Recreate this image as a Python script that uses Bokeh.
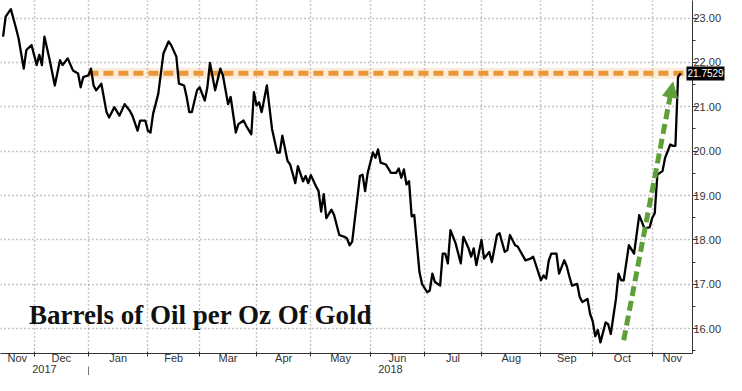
import pandas as pd
from bokeh.plotting import figure
from bokeh.models import (FixedTicker, LinearAxis, Label, Arrow, NormalHead,
                          Range1d, CustomJSTickFormatter)
from bokeh.embed import file_html
from bokeh.resources import INLINE

# ---------------- data ----------------
first_session_date = "2017-11-15"   # trading session 0
# trading-session number (business days from first_session_date)
session = [0, 1, 3, 5, 6, 8, 9, 11, 13, 14, 15, 16, 18, 20, 22, 23, 25, 27, 29, 30,
           31, 33, 34, 35, 36, 38, 40, 41, 43, 45, 47, 49, 50, 52, 53, 55, 56, 57, 58, 60,
           62, 64, 65, 67, 68, 70, 71, 72, 73, 75, 76, 78, 79, 80, 82, 84, 85, 87, 88, 90,
           91, 93, 94, 96, 97, 98, 99, 100, 102, 104, 106, 107, 108, 110, 111, 113, 114, 116, 117, 118,
           119, 121, 122, 123, 124, 125, 127, 128, 130, 132, 133, 134, 135, 138, 139, 140, 141, 143, 144, 145,
           146, 148, 150, 152, 153, 154, 155, 156, 157, 158, 159, 161, 162, 164, 165, 166, 167, 169, 170, 171,
           172, 173, 175, 177, 178, 180, 181, 182, 183, 185, 186, 188, 189, 191, 192, 194, 195, 196, 198, 199,
           202, 204, 205, 208, 209, 210, 211, 212, 214, 215, 217, 218, 219, 220, 222, 223, 224, 226, 227, 228,
           229, 230, 231, 233, 234, 235, 237, 238, 239, 240, 242, 244, 246, 248, 250, 251, 252, 253, 254, 255,
           256, 258, 259, 260, 261, 262]
ratio = [22.58, 23.03, 23.20, 22.77, 22.54, 21.86, 22.28, 22.39, 21.94, 22.17,
         21.94, 22.58, 22.06, 21.48, 22.05, 21.94, 22.09, 21.82, 21.75, 21.44,
         21.67, 21.71, 21.86, 21.48, 21.37, 21.52, 20.88, 20.76, 20.99, 20.80,
         21.06, 20.91, 20.80, 20.46, 20.69, 20.69, 20.46, 20.42, 20.84, 21.29,
         22.20, 22.47, 22.39, 22.13, 21.52, 21.48, 21.22, 20.88, 20.88, 21.37,
         21.44, 21.14, 21.44, 21.99, 21.37, 21.86, 21.71, 21.06, 21.22, 20.42,
         20.61, 20.69, 20.57, 20.38, 21.33, 21.03, 21.10, 20.88, 21.48, 20.50,
         19.97, 19.97, 20.35, 19.78, 19.70, 19.28, 19.66, 19.32, 19.44, 19.28,
         19.46, 19.21, 19.10, 18.64, 19.03, 18.49, 18.68, 18.56, 18.11, 18.07,
         18.03, 17.88, 17.96, 19.44, 19.47, 19.10, 19.51, 19.97, 19.85, 20.04,
         19.74, 19.70, 19.51, 19.51, 19.61, 19.40, 19.59, 19.25, 19.32, 18.53,
         18.56, 17.28, 17.01, 16.82, 16.86, 17.24, 17.05, 16.97, 17.69, 17.69,
         17.47, 18.22, 17.92, 17.47, 18.07, 17.81, 17.62, 17.81, 17.43, 18.00,
         17.58, 17.73, 17.50, 18.11, 18.15, 17.73, 17.77, 18.11, 17.88, 17.85,
         17.54, 17.58, 17.62, 17.09, 17.20, 17.13, 17.53, 17.69, 17.69, 17.24,
         17.54, 17.40, 17.17, 16.97, 17.01, 16.71, 16.60, 16.67, 16.33, 16.17,
         15.83, 15.97, 15.69, 16.14, 16.10, 15.88, 16.67, 17.24, 17.09, 17.09,
         17.88, 17.69, 18.56, 18.26, 18.28, 18.49, 18.60, 19.47, 19.51, 19.55,
         19.85, 20.15, 20.12, 20.12, 21.67, 21.7529]
y_ticks = [16, 17, 18, 19, 20, 21, 22, 23]
y_minor_ticks = [15.5, 16.5, 17.5, 18.5, 19.5, 20.5, 21.5, 22.5]
title_text = "Barrels of Oil per Oz Of Gold"

# ---------------- derived axis positions ----------------
X_START, X_END = -1.0, 266.6
cal = pd.bdate_range(first_session_date, periods=300)
month_starts = [i for i in range(1, len(cal))
                if cal[i].month != cal[i - 1].month and i < X_END]
bounds = [X_START] + month_starts + [X_END]
month_centers = [(a + b) / 2 for a, b in zip(bounds[:-1], bounds[1:])]
month_names = [cal[max(0, int(a) + 1)].strftime("%b") for a in bounds[:-1]]
year_starts = [i for i in month_starts if cal[i].month == 1]
ybounds = [X_START] + year_starts + [X_END]
year_centers = [(a + b) / 2 for a, b in zip(ybounds[:-1], ybounds[1:])]
year_names = [str(cal[max(0, int(a) + 1)].year) for a in ybounds[:-1]]

AXIS_FONT = "Liberation Sans"
TXT = "#333333"
ORANGE = "#ec9636"
GREEN = "#5e9f38"
TAG_W = 38

p = figure(width=726, height=375, output_backend="svg", toolbar_location=None,
           x_range=Range1d(X_START, X_END), y_range=Range1d(15.44, 23.395),
           y_axis_location="right", min_border_left=0, min_border_right=0,
           min_border_top=0, min_border_bottom=0)
p.outline_line_color = None
p.background_fill_color = "white"

# grids
p.xgrid.ticker = FixedTicker(ticks=month_starts)
p.ygrid.ticker = FixedTicker(ticks=y_ticks)
for g in (p.xgrid, p.ygrid):
    g.grid_line_color = "#8a8a8a"
    g.grid_line_dash = "1 3"
    g.grid_line_width = 1.4

# right y axis
ya = p.yaxis[0]
ya.ticker = FixedTicker(ticks=y_ticks, minor_ticks=y_minor_ticks)
ya.formatter = CustomJSTickFormatter(code="return tick.toFixed(2);")
ya.axis_line_color = "#333333"
ya.major_tick_line_color = "#333333"
ya.minor_tick_line_color = "#333333"
ya.major_tick_in = 0
ya.major_tick_out = 5
ya.minor_tick_in = 0
ya.minor_tick_out = 3
ya.major_label_standoff = -4
ya.major_label_text_font = AXIS_FONT
ya.major_label_text_font_size = "11px"
ya.major_label_text_color = TXT

# last-value tag: an extra right axis whose single tick is a thick black bar
tag = LinearAxis(ticker=FixedTicker(ticks=[ratio[-1]]),
                 formatter=CustomJSTickFormatter(code="return tick.toFixed(4);"))
tag.axis_line_color = None
tag.minor_tick_line_color = None
tag.major_tick_line_color = "black"
tag.major_tick_line_width = 14
tag.major_tick_line_cap = "butt"
tag.major_tick_in = TAG_W
tag.major_tick_out = 0
tag.major_label_standoff = -TAG_W + 1
tag.major_label_text_color = "white"
tag.major_label_text_font = AXIS_FONT
tag.major_label_text_font_size = "10px"
p.add_layout(tag, "right")

# bottom month axis
xa = p.xaxis[0]
xa.ticker = FixedTicker(ticks=month_centers, minor_ticks=month_starts)
xa.formatter = CustomJSTickFormatter(
    args=dict(pos=month_centers, names=month_names),
    code="const i = pos.indexOf(tick); return i < 0 ? '' : names[i];")
xa.axis_line_color = "#333333"
xa.major_tick_line_color = None
xa.major_tick_in = 0
xa.major_tick_out = 0
xa.minor_tick_line_color = "#333333"
xa.minor_tick_in = 2
xa.minor_tick_out = 3
xa.major_label_standoff = -5
xa.major_label_text_font = AXIS_FONT
xa.major_label_text_font_size = "11px"
xa.major_label_text_color = TXT

# bottom year axis (its minor tick is the year separator)
ya2 = LinearAxis(ticker=FixedTicker(ticks=year_centers, minor_ticks=year_starts),
                 formatter=CustomJSTickFormatter(
                     args=dict(pos=year_centers, names=year_names),
                     code="const i = pos.indexOf(tick); return i < 0 ? '' : names[i];"))
ya2.axis_line_color = None
ya2.major_tick_line_color = None
ya2.major_tick_in = 0
ya2.major_tick_out = 0
ya2.minor_tick_line_color = "#777777"
ya2.minor_tick_in = 0
ya2.minor_tick_out = 12
ya2.major_label_standoff = -14
ya2.major_label_text_font = AXIS_FONT
ya2.major_label_text_font_size = "11px"
ya2.major_label_text_color = TXT
p.add_layout(ya2, "below")

# orange reference level at last value
last_x, last_y = session[-1], ratio[-1]
jan1 = year_starts[0]
p.line([jan1, last_x + 2.5], [last_y, last_y], line_color=ORANGE, line_width=11,
       line_alpha=0.18)
p.line([jan1, last_x + 2.5], [last_y, last_y], line_color=ORANGE, line_width=5,
       line_dash="10 5")

# main series
p.line(session, ratio, line_color="black", line_width=2.3, line_join="round")

# green dashed arrow from the October low to the latest value
low_i = ratio.index(min(ratio))
p.add_layout(Arrow(x_start=session[low_i] + 9, y_start=ratio[low_i] + 0.05,
                   x_end=last_x - 3, y_end=last_y - 0.2,
                   line_color=GREEN, line_width=5, line_dash="10 5",
                   end=NormalHead(size=15, fill_color=GREEN, line_color=GREEN,
                                  line_width=1)))

# chart caption
p.add_layout(Label(x=10, y=16.31, text=title_text, text_font="Liberation Serif",
                   text_font_style="bold", text_font_size="27px",
                   text_color="#111111", text_baseline="alphabetic"))

open("out.html", "w").write(file_html(p, INLINE))
